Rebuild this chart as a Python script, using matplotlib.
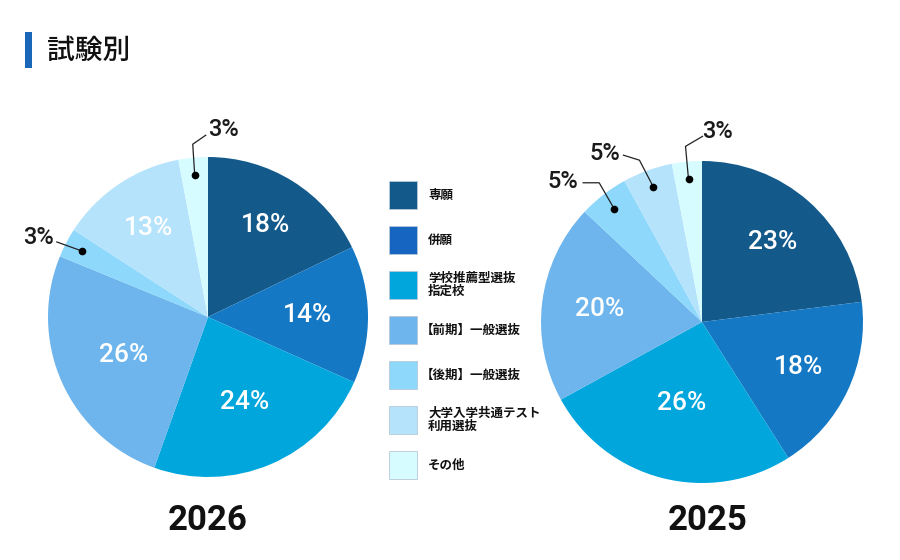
import numpy as np
import matplotlib
matplotlib.use("Agg")
import matplotlib.pyplot as plt
from matplotlib.patches import Rectangle
from matplotlib import font_manager

plt.rcParams['font.family'] = ['Noto Sans CJK JP', 'DejaVu Sans']

# ---------------- data ----------------
title = "試験別"
categories = ["専願", "併願", "学校推薦型選抜\n指定校", "【前期】一般選抜",
              "【後期】一般選抜", "大学入学共通テスト\n利用選抜", "その他"]
values_2026 = [18, 14, 24, 26, 3, 13, 3]
values_2025 = [23, 18, 26, 20, 5, 5, 3]
years = ["2026", "2025"]

pie_colors = ["#135a8b", "#1478c4", "#00a6dc", "#6db5ec", "#8ed8fb", "#b5e3fb", "#d7fcff"]
legend_colors = ["#135a8b", "#1565c1", "#00a6dc", "#6db5ec", "#8ed8fb", "#b5e3fb", "#d7fcff"]

# ---------------- layout (pixel space, y measured from top) ----------------
W, H = 900, 560
fig = plt.figure(figsize=(W / 100, H / 100), dpi=100)
ax = fig.add_axes([0, 0, 1, 1])

def Y(y):
    return H - y

num_font = ['Roboto', 'DejaVu Sans']

pies = [
    dict(values=values_2026, center=(208, 317), r=160, year=years[0], year_dx=0,
         inner=[0.68, 0.62, 0.58, 0.58, None, 0.67, None],
         outer={4: dict(pts=[(-25, 9)], txt=(-28, 13), ha='right'),
                6: dict(pts=[(-2, 31), (11, 40)], txt=(13, 46), ha='left')}),
    dict(values=values_2025, center=(702, 322), r=161, year=years[1], year_dx=6,
         inner=[0.66, 0.66, 0.52, 0.64, None, None, None],
         outer={4: dict(pts=[(-15, 26), (-31, 26)], txt=(-36, 27), ha='right'),
                5: dict(pts=[(-14, 27), (-30, 32)], txt=(-33, 34), ha='right'),
                6: dict(pts=[(-3, 33), (14, 43)], txt=(14, 48), ha='left')}),
]

for p in pies:
    cx, cy = p['center'][0], Y(p['center'][1])
    r = p['r']
    wedges, _ = ax.pie(p['values'], colors=pie_colors, startangle=90, counterclock=False,
                       center=(cx, cy), radius=r, wedgeprops=dict(linewidth=0),
                       normalize=True, frame=True)
    for i, w in enumerate(wedges):
        mid = np.deg2rad((w.theta1 + w.theta2) / 2)
        label = f"{p['values'][i]}%"
        d = p['inner'][i]
        if d is not None:
            ax.text(cx + r * d * np.cos(mid), cy + r * d * np.sin(mid), label,
                    color='white', fontsize=19, fontweight='medium', family=num_font,
                    ha='center', va='center')
        elif i in p['outer']:
            o = p['outer'][i]
            dx0 = cx + r * 0.89 * np.cos(mid)
            dy0 = cy + r * 0.89 * np.sin(mid)
            xs = [dx0] + [dx0 + a for a, b in o['pts']]
            ys = [dy0] + [dy0 + b for a, b in o['pts']]
            ax.plot(xs, ys, color='#222222', lw=0.9)
            ax.plot([dx0], [dy0], 'o', color='black', ms=4.5)
            ax.text(dx0 + o['txt'][0], dy0 + o['txt'][1], label, color='#1a1a1a',
                    fontsize=17, fontweight='medium', family=num_font,
                    ha=o['ha'], va='center')
    ax.text(cx + p['year_dx'], Y(521), p['year'], fontsize=25, fontweight='bold',
            family=num_font, ha='center', va='center', color='#111111')

# title
ax.add_patch(Rectangle((25, Y(68)), 7, 36, color='#1a66b8', lw=0))
ax.text(47, Y(50), title, fontsize=20, fontweight='medium', ha='left', va='center',
        color='#111111')

# legend
for i, (cat, col) in enumerate(zip(categories, legend_colors)):
    top = 181 + 45 * i
    ax.add_patch(Rectangle((389, Y(top + 28)), 28, 28, facecolor=col,
                           edgecolor='#b8c8d8', lw=0.6))
    tx = 421 if cat.startswith('【') else 428
    ax.text(tx, Y(top + 14), cat, fontsize=9, fontweight='bold', ha='left',
            va='center', color='#111111', linespacing=1.0)

ax.set_xlim(0, W)
ax.set_ylim(0, H)
ax.set_aspect('equal')
ax.set_position([0, 0, 1, 1])
ax.axis('off')

fig.savefig("out.png", dpi=100)
